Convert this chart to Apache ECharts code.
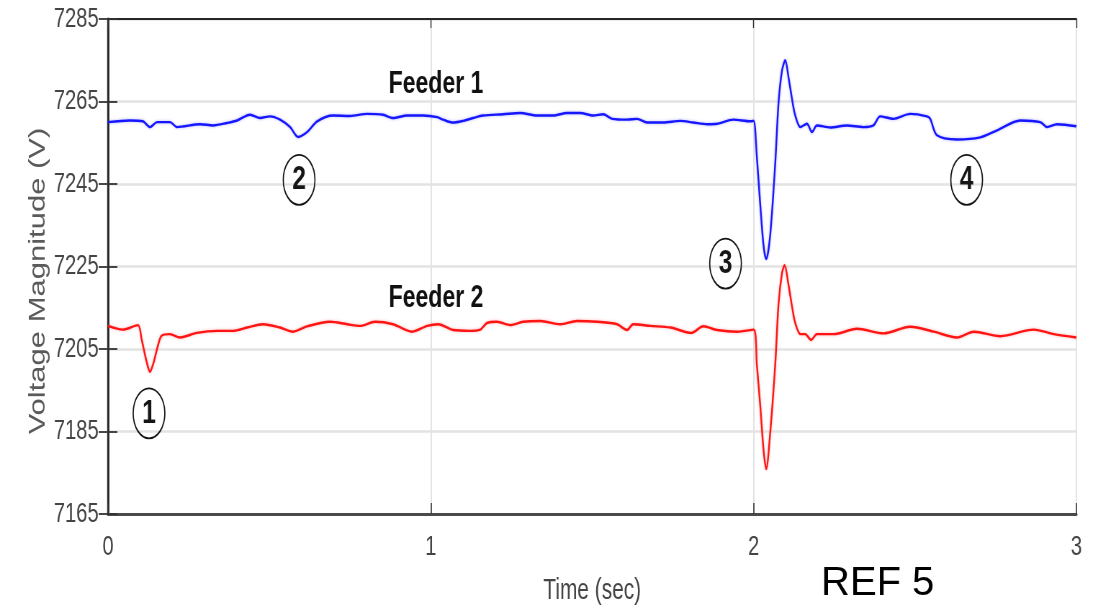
<!DOCTYPE html>
<html>
<head>
<meta charset="utf-8">
<script src="https://cdn.jsdelivr.net/npm/echarts@6/dist/echarts.min.js"></script>
<style>
  html, body { margin: 0; padding: 0; background: #fff; overflow: hidden; }
  /* The figure is laid out wide and then narrowed horizontally, which gives the tall, condensed look of the lettering. */
  #chart { position: absolute; left: 0; top: 0; width: 1527px; height: 610px; transform: scaleX(0.72); transform-origin: 0 0; }
</style>
</head>
<body>
<div id="chart"></div>
<script>
// Feeder 1 voltage magnitude (V) over time (s)
const f1Time = [0.000,0.068,0.108,0.130,0.152,0.192,0.214,0.285,0.325,0.369,0.400,0.440,0.471,0.502,0.533,0.564,0.589,0.617,0.648,0.697,0.750,0.803,0.852,0.883,0.927,0.976,1.020,1.038,1.069,1.100,1.131,1.162,1.224,1.277,1.329,1.379,1.422,1.463,1.503,1.534,1.562,1.608,1.639,1.670,1.720,1.773,1.813,1.857,1.887,1.937,1.990,2.000,2.010,2.021,2.031,2.039,2.051,2.067,2.077,2.088,2.098,2.108,2.119,2.129,2.145,2.165,2.181,2.196,2.237,2.289,2.340,2.371,2.392,2.433,2.485,2.537,2.547,2.568,2.630,2.702,2.754,2.826,2.888,2.909,2.940,3.000];
const f1Volt = [7260.0,7260.4,7260.2,7258.8,7260.0,7260.0,7258.8,7259.5,7259.2,7259.8,7260.4,7261.8,7261.0,7261.4,7260.6,7258.8,7256.4,7257.6,7260.2,7261.6,7261.5,7262.0,7261.8,7261.0,7261.6,7261.6,7261.2,7260.6,7259.9,7260.3,7261.0,7261.6,7261.9,7262.2,7261.6,7261.6,7262.2,7262.2,7261.6,7261.9,7260.8,7260.6,7260.8,7259.9,7259.9,7260.3,7259.9,7259.5,7259.6,7260.6,7260.2,7260.3,7251.6,7239.5,7229.9,7226.8,7232.3,7250.0,7264.5,7272.5,7275.0,7270.9,7265.6,7261.6,7258.8,7259.6,7257.6,7259.2,7258.7,7259.2,7258.8,7259.2,7261.4,7260.8,7262.0,7261.4,7260.8,7256.8,7255.8,7256.3,7258.0,7260.4,7260.0,7258.8,7259.5,7259.0];

// Feeder 2 voltage magnitude (V) over time (s)
const f2Time = [0.000,0.046,0.093,0.104,0.120,0.130,0.140,0.156,0.166,0.192,0.223,0.275,0.337,0.387,0.431,0.480,0.533,0.573,0.617,0.688,0.741,0.781,0.827,0.883,0.942,0.989,1.023,1.069,1.122,1.153,1.174,1.205,1.246,1.286,1.339,1.401,1.453,1.515,1.577,1.608,1.627,1.680,1.742,1.807,1.844,1.887,1.949,2.000,2.010,2.021,2.031,2.039,2.051,2.067,2.077,2.088,2.096,2.108,2.119,2.129,2.145,2.160,2.178,2.196,2.248,2.320,2.403,2.485,2.558,2.630,2.682,2.764,2.868,2.930,3.000];
const f2Volt = [7210.6,7209.7,7210.8,7207.4,7201.8,7199.5,7201.4,7206.2,7208.2,7208.6,7207.8,7208.9,7209.4,7209.4,7210.2,7211.0,7210.2,7209.2,7210.5,7211.6,7211.0,7210.6,7211.6,7211.0,7209.2,7210.6,7211.0,7209.6,7209.4,7209.7,7211.3,7211.6,7210.8,7211.6,7211.8,7211.0,7211.8,7211.6,7211.0,7209.6,7211.0,7210.6,7210.2,7208.9,7210.5,7209.6,7209.2,7209.7,7201.2,7190.8,7180.3,7175.9,7184.3,7201.2,7215.7,7223.4,7225.3,7220.6,7215.3,7211.3,7208.6,7208.6,7207.2,7208.6,7208.6,7209.9,7208.8,7210.4,7209.2,7207.8,7209.2,7208.1,7209.7,7208.6,7207.8];

// Axis ticks
const xTicks = [0, 1, 2, 3];
const yTicks = [7165, 7185, 7205, 7225, 7245, 7265, 7285];

// Numbered event markers (circled) and feeder captions, in data units
const eventLabels = ['1', '2', '3', '4'];
const eventTime = [0.127, 0.592, 1.913, 2.660];
const eventVolt = [7189.4, 7246.0, 7225.7, 7246.0];
const feederNames = ['Feeder 1', 'Feeder 2'];
const feederTime = [1.016, 1.016];
const feederVolt = [7269.2, 7217.4];

const FONT = '"Liberation Sans", Arial, Helvetica, sans-serif';
const pairs = (t, v) => t.map((x, i) => [x, v[i]]);
const plain = (v) => String(v);

const eventMarks = eventLabels.map((lab, i) => ({
  coord: [eventTime[i], eventVolt[i]],
  value: lab,
  symbol: 'circle',
  symbolSize: [44, 50],
  itemStyle: { color: 'rgba(255,255,255,0)', borderColor: '#151515', borderWidth: 1.8 },
  label: { show: true, position: 'inside', formatter: lab, color: '#151515',
           fontFamily: FONT, fontWeight: 'bold', fontSize: 34 }
}));
const feederMarks = feederNames.map((name, i) => ({
  coord: [feederTime[i], feederVolt[i]],
  value: name,
  symbol: 'rect',
  symbolSize: [1, 1],
  itemStyle: { color: 'rgba(255,255,255,0)' },
  label: { show: true, position: 'inside', formatter: name, color: '#111',
           fontFamily: FONT, fontWeight: 'bold', fontSize: 32 }
}));

const chart = echarts.init(document.getElementById('chart'));
chart.setOption({
  animation: false,
  backgroundColor: '#fff',
  textStyle: { fontFamily: FONT },
  grid: { left: 150, right: 32, top: 19, bottom: 96 },
  xAxis: [
    {
      type: 'value', position: 'bottom',
      min: xTicks[0], max: xTicks[xTicks.length - 1], interval: xTicks[1] - xTicks[0],
      name: 'Time (sec)', nameLocation: 'middle', nameGap: 62,
      nameTextStyle: { fontSize: 29, color: '#454545', fontFamily: FONT },
      axisLine: { show: true, lineStyle: { color: '#4a4a4a', width: 3 } },
      axisTick: { show: true, inside: true, length: 11, lineStyle: { color: '#333', width: 1.6 } },
      axisLabel: { fontSize: 28, color: '#444', margin: 19, fontFamily: FONT, formatter: plain },
      splitLine: { show: true, lineStyle: { color: '#e3e3e3', width: 2 } }
    },
    {
      type: 'value', position: 'top',
      min: xTicks[0], max: xTicks[xTicks.length - 1], interval: xTicks[1] - xTicks[0],
      axisLine: { show: true, lineStyle: { color: '#262626', width: 1.8 } },
      axisTick: { show: true, inside: true, length: 9, lineStyle: { color: '#333', width: 1.4 } },
      axisLabel: { show: false },
      splitLine: { show: false }
    }
  ],
  yAxis: [
    {
      type: 'value', position: 'left',
      min: yTicks[0], max: yTicks[yTicks.length - 1], interval: yTicks[1] - yTicks[0],
      axisLine: { show: true, lineStyle: { color: '#3a3a3a', width: 3 } },
      axisTick: { show: true, inside: true, length: 13, lineStyle: { color: '#333', width: 1.8 } },
      axisLabel: { fontSize: 28, color: '#444', margin: 13, fontFamily: FONT, formatter: plain },
      splitLine: { show: true, lineStyle: { color: '#e3e3e3', width: 2.6 } }
    },
    {
      type: 'value', position: 'right',
      min: yTicks[0], max: yTicks[yTicks.length - 1], interval: yTicks[1] - yTicks[0],
      axisLine: { show: true, lineStyle: { color: '#262626', width: 2.4 } },
      axisTick: { show: true, inside: true, length: 13, lineStyle: { color: '#333', width: 1.8 } },
      axisLabel: { show: false },
      splitLine: { show: false }
    }
  ],
  graphic: [
    {
      type: 'text', x: 53, y: 281, rotation: Math.PI / 2, silent: true,
      style: { text: 'Voltage Magnitude (V)', font: '31px ' + FONT, fill: '#5a5a5a',
               align: 'center', verticalAlign: 'middle' }
    },
    {
      // Caption set in normal proportions, so it is widened back against the container's narrowing
      type: 'text', x: 1219, y: 584, scaleX: 1 / 0.72, silent: true,
      style: { text: 'REF 5', font: '40px ' + FONT, fill: '#000',
               align: 'center', verticalAlign: 'middle' }
    }
  ],
  series: [
    {
      name: 'Feeder 1', type: 'line', xAxisIndex: 0, yAxisIndex: 0,
      data: pairs(f1Time, f1Volt), showSymbol: false, symbol: 'none', smooth: 0.3,
      lineStyle: { color: '#1616ff', width: 2.4, shadowBlur: 3, shadowColor: 'rgba(40,40,255,0.35)' },
      markPoint: { silent: true, data: eventMarks.slice(1).concat([feederMarks[0]]) }
    },
    {
      name: 'Feeder 2', type: 'line', xAxisIndex: 0, yAxisIndex: 0,
      data: pairs(f2Time, f2Volt), showSymbol: false, symbol: 'none', smooth: 0.3,
      lineStyle: { color: '#ff1414', width: 2.4, shadowBlur: 3, shadowColor: 'rgba(255,40,40,0.35)' },
      markPoint: { silent: true, data: [eventMarks[0], feederMarks[1]] }
    }
  ]
});
</script>
</body>
</html>
